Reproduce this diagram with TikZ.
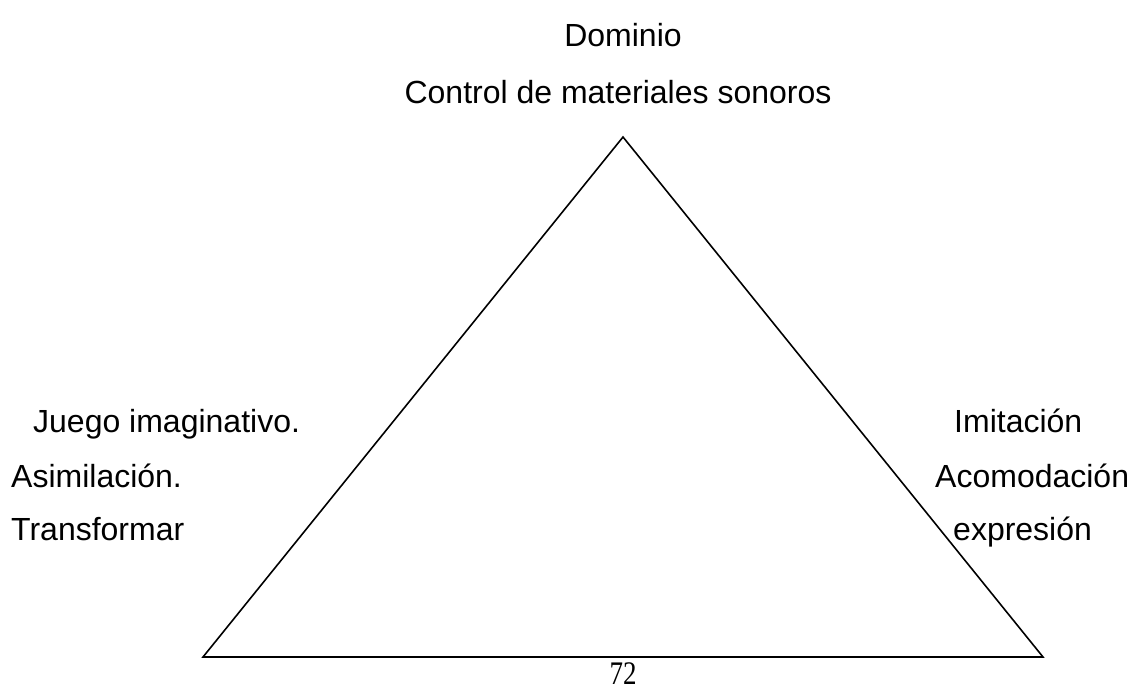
\documentclass[tikz,border=0pt]{standalone}
\usepackage{fontspec}
\setmainfont{Liberation Sans}
\newfontfamily\serifnum{Liberation Serif}
\begin{document}
\begin{tikzpicture}[x=1pt,y=-1pt,
  lbl/.style={inner sep=0pt,font=\fontsize{32}{38}\selectfont},
  num/.style={inner sep=0pt,font=\fontsize{27}{30}\serifnum}]
\useasboundingbox (0,0) rectangle (1134,690);
\coordinate (A) at (623,137);
\coordinate (B) at (203,657);
\coordinate (C) at (1043,657);
\draw[line width=1.6pt] (A) -- (B) -- (C) -- cycle;
\node[lbl,anchor=base] (dom) at (623,47) {Dominio};
\node[lbl,anchor=base] (ctl) at (618,103) {Control de materiales sonoros};
\node[lbl,anchor=base west] (l1) at (33,432) {Juego imaginativo.};
\node[lbl,anchor=base west] (l2) at (11,487) {Asimilación.};
\node[lbl,anchor=base west] (l3) at (11,540) {Transformar};
\node[lbl,anchor=base west] (r1) at (954,432) {Imitación};
\node[lbl,anchor=base west] (r2) at (935,487) {Acomodación};
\node[lbl,anchor=base west] (r3) at (953,540) {expresión};
\node[num,anchor=base] (pg) at (623,684) {\scalebox{1}[1.22]{72}};
\end{tikzpicture}
\end{document}
